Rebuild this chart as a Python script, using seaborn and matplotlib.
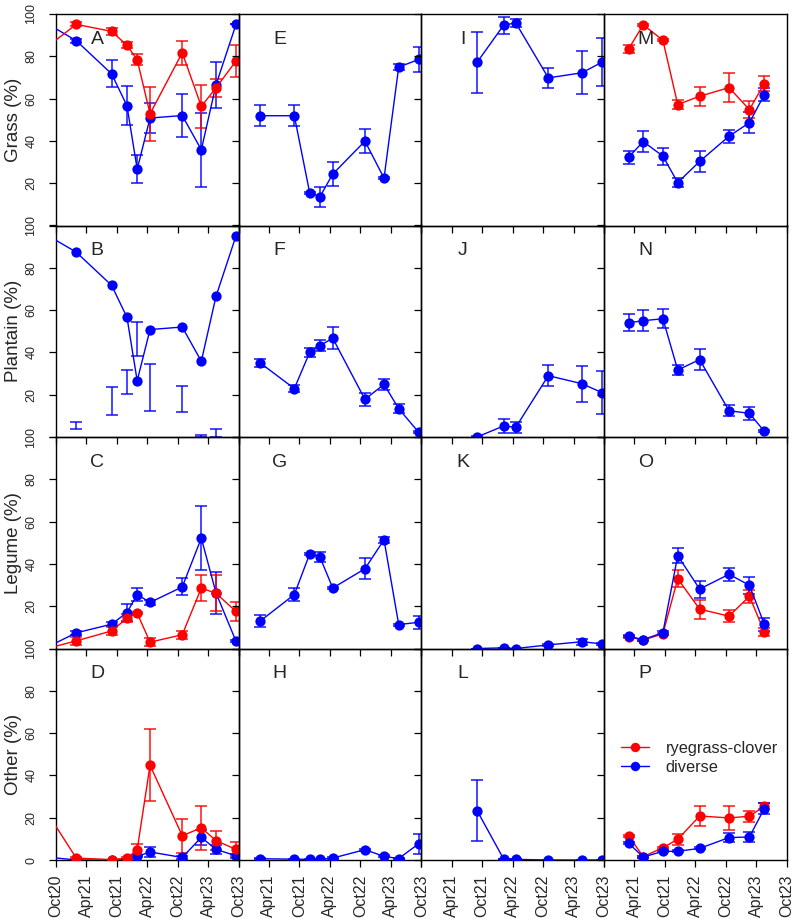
import numpy as np
import pandas as pd
import matplotlib
matplotlib.use("Agg")
import matplotlib.pyplot as plt
import seaborn as sns
from matplotlib.lines import Line2D

sns.set_style("ticks")
plt.rcParams['font.family'] = ['Liberation Sans', 'DejaVu Sans']

# ---------------- data ----------------
# sampling dates per column (site)
dates_c1 = ["2020-08-08", "2021-01-31", "2021-08-31", "2021-12-01", "2022-01-31",
            "2022-04-18", "2022-10-28", "2023-02-19", "2023-05-18", "2023-09-15"]
dates_c2 = ["2021-02-08", "2021-08-31", "2021-12-01", "2022-01-31",
            "2022-04-18", "2022-10-28", "2023-02-19", "2023-05-18", "2023-09-15"]
dates_c3 = ["2021-08-31", "2022-02-06", "2022-04-20", "2022-11-01", "2023-05-21", "2023-09-18"]
dates_c4 = ["2021-02-25", "2021-05-24", "2021-09-19", "2021-12-17",
            "2022-04-27", "2022-10-20", "2023-02-19", "2023-05-19"]

tick_dates = ["2020-10-01", "2021-04-01", "2021-10-01", "2022-04-01",
              "2022-10-01", "2023-04-01", "2023-10-01"]
tick_labels = ["Oct20", "Apr21", "Oct21", "Apr22", "Oct22", "Apr23", "Oct23"]

row_labels = ["Grass (%)", "Plantain (%)", "Legume (%)", "Other (%)"]
series_names = ["ryegrass-clover", "diverse"]

# Column 1 (A-D)
A_red = [84.4, 95.1, 91.8, 85.2, 78.4, 52.8, 81.7, 56.3, 65.1, 77.8]
A_red_err = [0, 1, 1.5, 1.5, 2.7, 12.7, 5.7, 10.2, 4.2, 7.5]
A_blue = [95.5, 87.4, 71.7, 56.6, 26.6, 50.8, 52.0, 35.8, 66.5, 95.1]
A_blue_err = [0, 1, 6.4, 9.2, 6.7, 6.9, 10.3, 17.4, 10.9, 0]

B_blue = [95.5, 87.4, 71.7, 56.6, 26.6, 50.8, 52.0, 35.8, 66.5, 95.1]
B_bar_mid = [np.nan, 5.4, 17.0, 26.2, 46.4, 23.4, 18.0, 0.5, 1.9, np.nan]
B_bar_err = [0, 1.6, 6.5, 5.7, 8.1, 11.0, 6.3, 0.5, 1.9, 0]

C_red = [0.0, 3.6, 8.3, 14.3, 16.7, 3.0, 6.5, 28.6, 26.1, 17.5]
C_red_err = [0, 2, 2, 2, 0.5, 2, 2, 6, 8.5, 4.5]
C_blue = [0.6, 7.4, 11.5, 17.0, 25.5, 21.8, 29.1, 52.2, 26.3, 3.4]
C_blue_err = [0, 1, 1, 4, 3, 1.2, 4, 15, 10, 0.5]

D_red = [22.5, 0.9, 0.2, 0.9, 4.9, 44.8, 11.5, 15.2, 9.2, 5.0]
D_red_err = [0, 0.5, 0, 0.5, 2.5, 17, 8, 10.5, 4.7, 3.3]
D_blue = [1.4, 0, 0, 0, 1.7, 3.8, 1.2, 10.7, 5.0, 2.0]
D_blue_err = [0, 0, 0, 0, 0.5, 2.5, 0.5, 3.5, 2, 1]

# Column 2 (E-H)
E_blue = [51.9, 51.9, 15.5, 13.6, 24.3, 39.9, 22.4, 74.9, 78.5]
E_blue_err = [5, 5, 0.5, 4.7, 5.7, 5.8, 0.5, 1.5, 6]
F_blue = [35.0, 22.9, 40.0, 43.2, 46.7, 17.8, 24.9, 13.4, 2.2]
F_blue_err = [2, 1.5, 2, 2.5, 5.3, 3, 2.5, 2, 0.5]
G_blue = [13.0, 25.5, 44.7, 43.3, 28.6, 37.7, 51.4, 11.3, 12.4]
G_blue_err = [3, 3, 0.5, 2.5, 0.5, 5, 1.5, 0.5, 3]
H_blue = [0.6, 0.4, 0.3, 0.3, 0.9, 4.9, 1.7, 0.7, 7.7]
H_blue_err = [0.3, 0.3, 0.3, 0.3, 0.3, 0.5, 0.5, 0.3, 4.8]

# Column 3 (I-L)
I_blue = [77.1, 94.7, 95.8, 69.8, 72.2, 77.2]
I_blue_err = [14.6, 4, 2, 4.8, 10.2, 11.3]
J_blue = [0.0, 5.2, 4.6, 29.0, 25.2, 21.0]
J_blue_err = [0.3, 3.5, 2.5, 5, 8.5, 10]
K_blue = [0.0, 0.3, 0.0, 1.7, 3.2, 2.2]
K_blue_err = [0, 0, 0, 0.5, 1.5, 0.5]
L_blue = [23.4, 0.5, 0.3, 0.0, 0.0, 0.0]
L_blue_err = [14.5, 0, 0, 0, 0, 0]

# Column 4 (M-P)
M_red = [83.4, 94.9, 87.6, 57.2, 61.1, 65.2, 54.8, 67.1]
M_red_err = [2, 0.5, 0.5, 2, 4.5, 7, 4, 3.5]
M_blue = [32.2, 39.7, 32.8, 20.3, 30.3, 42.2, 48.6, 61.8]
M_blue_err = [3, 5, 4, 2, 5, 3, 5, 3]
N_blue = [54.0, 55.0, 55.9, 31.7, 36.6, 12.4, 11.2, 2.7]
N_blue_err = [4, 5, 4.5, 2.5, 5, 2.5, 3, 0.5]
O_red = [5.5, 4.0, 6.9, 33.0, 18.6, 15.3, 24.7, 7.9]
O_red_err = [0.5, 0.5, 0.5, 4, 4.5, 3, 3, 2]
O_blue = [5.8, 4.2, 7.5, 43.9, 28.1, 35.1, 29.9, 11.5]
O_blue_err = [0.5, 0.5, 1, 3.5, 4, 3, 4, 3]
P_red = [11.5, 1.6, 5.8, 9.8, 20.8, 19.9, 20.7, 25.4]
P_red_err = [0.5, 0.5, 0.5, 2.5, 4.5, 5.5, 2.5, 1.5]
P_blue = [8.0, 1.4, 4.1, 4.1, 5.5, 10.6, 10.9, 24.3]
P_blue_err = [0.5, 0.3, 0.5, 0.5, 0.5, 2, 2.5, 2.5]

RED = "#FF0000"
BLUE = "#0000FF"


def dec(dates):
    d = pd.to_datetime(pd.Series(dates))
    return (d.dt.year + (d.dt.dayofyear - 1) / 365.25).to_numpy()


x1, x2, x3, x4 = dec(dates_c1), dec(dates_c2), dec(dates_c3), dec(dates_c4)
xt = dec(tick_dates)

# (letter, row, col, x, list of (values, err, color)), drawn in order
panels = [
    ("A", 0, 0, x1, [(A_blue, A_blue_err, BLUE), (A_red, A_red_err, RED)]),
    ("B", 1, 0, x1, [(B_blue, None, BLUE)]),
    ("C", 2, 0, x1, [(C_blue, C_blue_err, BLUE), (C_red, C_red_err, RED)]),
    ("D", 3, 0, x1, [(D_blue, D_blue_err, BLUE), (D_red, D_red_err, RED)]),
    ("E", 0, 1, x2, [(E_blue, E_blue_err, BLUE)]),
    ("F", 1, 1, x2, [(F_blue, F_blue_err, BLUE)]),
    ("G", 2, 1, x2, [(G_blue, G_blue_err, BLUE)]),
    ("H", 3, 1, x2, [(H_blue, H_blue_err, BLUE)]),
    ("I", 0, 2, x3, [(I_blue, I_blue_err, BLUE)]),
    ("J", 1, 2, x3, [(J_blue, J_blue_err, BLUE)]),
    ("K", 2, 2, x3, [(K_blue, K_blue_err, BLUE)]),
    ("L", 3, 2, x3, [(L_blue, L_blue_err, BLUE)]),
    ("M", 0, 3, x4, [(M_red, M_red_err, RED), (M_blue, M_blue_err, BLUE)]),
    ("N", 1, 3, x4, [(N_blue, N_blue_err, BLUE)]),
    ("O", 2, 3, x4, [(O_red, O_red_err, RED), (O_blue, O_blue_err, BLUE)]),
    ("P", 3, 3, x4, [(P_red, P_red_err, RED), (P_blue, P_blue_err, BLUE)]),
]

W, H = 796, 923
fig = plt.figure(figsize=(W / 100, H / 100), dpi=100)
fig.patch.set_facecolor("white")

L0, T0, PW, PH = 56.0, 14.0, 182.7, 211.5
MS = 7.4
CAP = 4.3

for letter, r, c, xs, series in panels:
    left = L0 + c * PW
    top = T0 + r * PH
    ax = fig.add_axes([left / W, 1 - (top + PH) / H, PW / W, PH / H])
    ax.patch.set_visible(False)
    for vals, err, col in series:
        sns.lineplot(x=xs, y=vals, ax=ax, color=col, marker="o", markersize=MS,
                     markeredgewidth=0, linewidth=1.0, estimator=None, sort=False,
                     legend=False, zorder=3)
        if err is not None:
            ax.errorbar(xs, vals, yerr=err, fmt="none", ecolor=col, elinewidth=1.2,
                        capsize=CAP, capthick=1.2, zorder=2, alpha=0.85)
    if letter == "B":
        ax.errorbar(x1, B_bar_mid, yerr=B_bar_err, fmt="none", ecolor=BLUE,
                    elinewidth=1.2, capsize=CAP, capthick=1.2, zorder=2, alpha=0.85)

    ax.set_xlim(xt[0], xt[-1])
    ax.set_ylim(0, 100)
    for sp in ax.spines.values():
        sp.set_visible(True)
        sp.set_color("black")
        sp.set_linewidth(1.0)
    ax.set_xlabel("")
    ax.set_ylabel("")

    ax.set_yticks([0, 20, 40, 60, 80, 100])
    ax.set_xticks(xt)
    ax.tick_params(axis="both", direction="out", length=5, width=0.9,
                   color="black", top=False, right=False)
    if c == 0:
        ylabs = ["0" if r == 3 else "", "20", "40", "60", "80", "100"]
        ax.set_yticklabels(ylabs, rotation=90, va="center", fontsize=9)
        ax.tick_params(axis="y", pad=8.5)
    else:
        ax.tick_params(axis="y", labelleft=False)
    if r == 3:
        xl = list(tick_labels) if c == 0 else [""] + tick_labels[1:]
        ax.set_xticklabels(xl, rotation=90, ha="center", va="top", fontsize=11.5)
        ax.tick_params(axis="x", pad=5.5)
    else:
        ax.tick_params(axis="x", labelbottom=False)

    ax.text(0.225, 0.88, letter, transform=ax.transAxes, ha="center", va="center",
            fontsize=14, zorder=5)

    if letter == "P":
        handles = [Line2D([], [], color=RED, marker="o", markersize=6.8,
                          markeredgewidth=0, linewidth=1.0),
                   Line2D([], [], color=BLUE, marker="o", markersize=6.8,
                          markeredgewidth=0, linewidth=1.0)]
        ax.legend(handles, series_names, loc="upper left", bbox_to_anchor=(0.09, 0.565),
                  frameon=False, fontsize=11.8, handlelength=1.75, handletextpad=1.0,
                  labelspacing=0.25, borderpad=0, borderaxespad=0)

for r, lab in enumerate(row_labels):
    fig.text(14 / W, 1 - (T0 + r * PH + PH / 2) / H, lab, rotation=90,
             ha="center", va="center", fontsize=13.5)

fig.savefig("out.png", dpi=100, facecolor="white")
